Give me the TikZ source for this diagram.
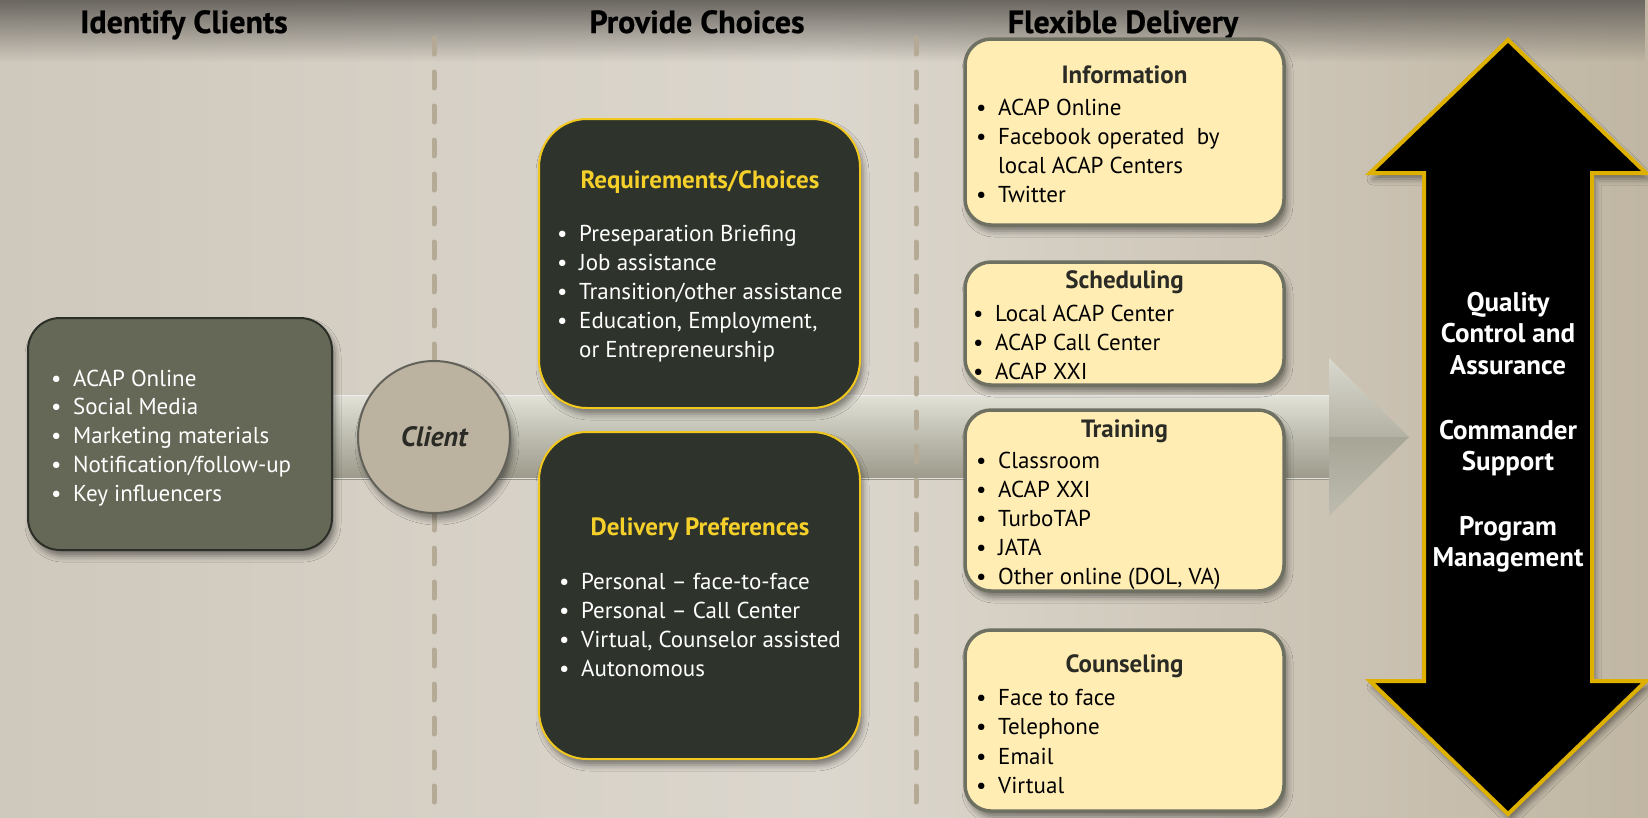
\documentclass[tikz,border=0pt]{standalone}
\usepackage{fontspec}
\setmainfont{PT Sans}
\newfontfamily\headfont[FakeBold=0.6]{PT Sans}
\usetikzlibrary{shadows.blur,fadings}

\definecolor{bgleft}{HTML}{CFC8BC}
\definecolor{bgmid}{HTML}{DCD7CE}
\definecolor{bgright}{HTML}{C0B6A3}
\definecolor{bgtop}{HTML}{6B6761}
\definecolor{dashcol}{HTML}{B4AA96}
\definecolor{olivebox}{HTML}{666857}
\definecolor{olivedge}{HTML}{2C2F27}
\definecolor{clientfill}{HTML}{BCB2A0}
\definecolor{clientedge}{HTML}{62625A}
\definecolor{darkbox}{HTML}{2E342B}
\definecolor{gold}{HTML}{F2C81E}
\definecolor{goldtext}{HTML}{F5CF2A}
\definecolor{creamfill}{HTML}{FFEDB3}
\definecolor{creamedge}{HTML}{6E7062}
\definecolor{darktext}{HTML}{2B2B25}
\definecolor{arrowedge}{HTML}{DEB000}
\definecolor{bandtop}{HTML}{E2E2D8}
\definecolor{bandmid}{HTML}{BDBCAF}
\definecolor{bandbot}{HTML}{9C998A}
\definecolor{headhi}{HTML}{D9D8CE}
\definecolor{headmid}{HTML}{B3B1A3}
\definecolor{headlo}{HTML}{A7A596}
\definecolor{headlo2}{HTML}{BEBCAF}

\newcommand\bulletlist[4]{% prefix, style, x of bullet, list of text/baseline
  \foreach \t/\yy [count=\i] in {#4}
    \node[#2] (#1\i) at (#3,\yy) {\makebox[22pt][l]{\textbullet}\t};}

\begin{document}
\begin{tikzpicture}[x=1pt,y=-1pt,
  softshadow/.style={blur shadow={shadow xshift=3pt, shadow yshift=-6pt,
      shadow blur radius=6pt, shadow opacity=45}},
  heading/.style={font=\headfont\fontsize{32}{36}\selectfont\bfseries,
      text=black, anchor=base, inner sep=0pt},
  body/.style={font=\fontsize{23}{29}\selectfont, anchor=base west, inner sep=0pt},
  whiteitem/.style={body, text=white},
  blackitem/.style={body, text=black},
  goldtitle/.style={font=\fontsize{25}{30}\selectfont\bfseries, text=goldtext,
      anchor=base, inner sep=0pt},
  creamtitle/.style={font=\fontsize{25}{30}\selectfont\bfseries, text=darktext,
      anchor=base, inner sep=0pt},
  olivestyle/.style={rectangle, rounded corners=32pt, fill=olivebox,
      draw=olivedge, line width=2pt, softshadow},
  darkstyle/.style={rectangle, rounded corners=48pt, fill=darkbox,
      draw=gold, line width=2pt, softshadow, minimum width=321pt},
  creamstyle/.style={rectangle, rounded corners=26pt, fill=creamfill,
      draw=creamedge, line width=3.5pt, softshadow, minimum width=319pt},
  qtext/.style={font=\fontsize{27}{31}\selectfont\bfseries, text=white,
      anchor=base, inner sep=0pt},
  dashline/.style={draw=dashcol, line width=5pt, line cap=round,
      dash pattern=on 16pt off 18pt}
]
% page and background
\useasboundingbox (0,0) rectangle (1648,817);
\shade[left color=bgleft, right color=bgright, middle color=bgmid]
  (0,0) rectangle (1648,817);
\fill[bgtop, path fading=south] (0,0) rectangle (1648,62);

% column headings
\node[heading] (h1) at (184,33) {Identify Clients};
\node[heading] (h2) at (697,33) {Provide Choices};
\node[heading] (h3) at (1123,33) {Flexible Delivery};

% the long grey arrow through the middle
\shade[top color=bandtop, bottom color=bandbot, middle color=bandmid]
  (300,395) rectangle (1330,479);
\draw[white!85!gray, line width=1.5pt] (300,395.5) -- (1330,395.5);
\draw[white!75!gray, line width=1.5pt] (300,478.5) -- (1330,478.5);
\shade[top color=headhi, bottom color=headmid]
  (1329,358) -- (1409,437) -- (1329,437) -- cycle;
\shade[top color=headlo, bottom color=headlo2]
  (1329,437) -- (1409,437) -- (1329,516) -- cycle;

% column separators
\draw[dashline] (434,38) -- (434,817);
\draw[dashline] (916,38) -- (916,817);

% identify clients
\node[olivestyle, minimum width=304pt, minimum height=232pt] (idbox) at (180,434) {};
\bulletlist{id}{whiteitem}{51}{ACAP Online/386, Social Media/414.7,
  Marketing materials/443.4, {Notification/follow-up}/472, Key influencers/501}

% client
\node[circle, minimum size=152pt, inner sep=0pt, fill=clientfill,
  draw=clientedge, line width=2pt, softshadow,
  font=\fontsize{28}{32}\selectfont\bfseries\itshape, text=darktext]
  (client) at (434,437) {Client};

% provide choices
\node[darkstyle, minimum height=289pt] (reqbox) at (699.5,263.5) {};
\node[goldtitle] (reqtitle) at (700,188) {Requirements/Choices};
\bulletlist{req}{whiteitem}{557}{Preseparation Briefing/241, Job assistance/270,
  {Transition/other assistance}/299, {Education, Employment,}/328}
\node[whiteitem] (req5) at (579,357) {or Entrepreneurship};

\node[darkstyle, minimum height=327pt] (delbox) at (699.5,595.5) {};
\node[goldtitle] (deltitle) at (700,535) {Delivery Preferences};
\bulletlist{del}{whiteitem}{559}{Personal – face-to-face/589,
  Personal – Call Center/618, {Virtual, Counselor assisted}/647, Autonomous/676}

% flexible delivery
\node[creamstyle, minimum height=186pt] (infobox) at (1124.5,132) {};
\node[creamtitle] (infotitle) at (1124.5,83) {Information};
\bulletlist{info}{blackitem}{976}{ACAP Online/115, Facebook operated\ \ by/144}
\node[blackitem] (info3) at (998,173) {local ACAP Centers};
\node[blackitem] (info4) at (976,202) {\makebox[22pt][l]{\textbullet}Twitter};

\node[creamstyle, minimum height=123pt] (schedbox) at (1124.5,323.5) {};
\node[creamtitle] (schedtitle) at (1124.5,288) {Scheduling};
\bulletlist{sched}{blackitem}{973}{Local ACAP Center/321, ACAP Call Center/350,
  ACAP XXI/379}

\node[creamstyle, minimum height=181pt] (trainbox) at (1124.5,500.5) {};
\node[creamtitle] (traintitle) at (1124.5,437) {Training};
\bulletlist{train}{blackitem}{976}{Classroom/468, ACAP XXI/497, TurboTAP/526,
  JATA/555, {Other online (DOL, VA)}/584}

\node[creamstyle, minimum height=181pt] (counsbox) at (1124.5,720.5) {};
\node[creamtitle] (counstitle) at (1124.5,672) {Counseling};
\bulletlist{couns}{blackitem}{976}{Face to face/705, Telephone/734, Email/764,
  Virtual/793}

% double-headed arrow on the right
\draw[fill=black, draw=arrowedge, line width=4pt, line join=miter, softshadow]
  (1508,40) -- (1646,173) -- (1592,173) -- (1592,681) -- (1646,681)
  -- (1508,814) -- (1370,681) -- (1424,681) -- (1424,173) -- (1370,173) -- cycle;
\foreach \t/\yy [count=\i] in {Quality/311, Control and/342, Assurance/374,
    Commander/439, Support/470, Program/535, Management/566}
  \node[qtext] (qc\i) at (1508,\yy) {\t};
\end{tikzpicture}
\end{document}
